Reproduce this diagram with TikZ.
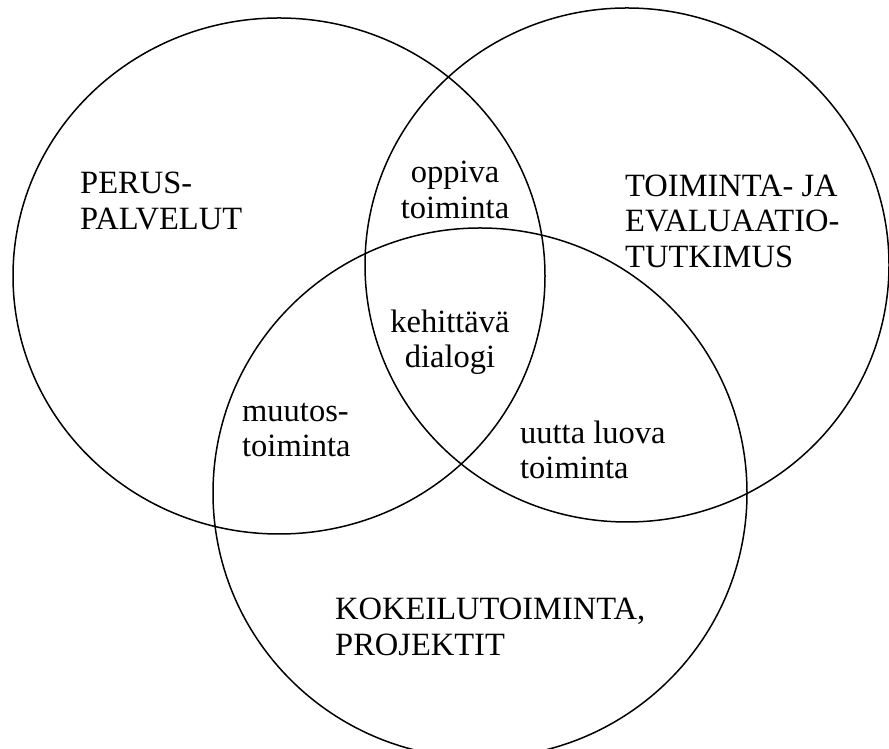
\documentclass[tikz,border=0pt]{standalone}
\usepackage{fontspec}
\setmainfont{Liberation Serif}
\usetikzlibrary{positioning}

\tikzset{
	ring/.style={draw, line width=1.5pt},
	label/.style={inner sep=0pt, font=\fontsize{32.5}{35.5}\selectfont},
	lefttext/.style={label, anchor=west, align=left},
	midtext/.style={label, align=center}
}

\begin{document}
\begin{tikzpicture}[x=1pt, y=1pt]

		% === page bounds ===
		\useasboundingbox (0,0) rectangle (889,749);

		% === circles ===
		\draw[ring] (279,473) ellipse [x radius=266, y radius=258];	% basic services
		\draw[ring] (627,484) ellipse [x radius=262, y radius=257];	% research
		\draw[ring] (480,256) ellipse [x radius=267, y radius=265];	% projects

		% === labels of the circles ===
		\node[lefttext] (perus) at (80,548) {PERUS-\\PALVELUT};
		\node[lefttext] (tutkimus) at (625,528) {TOIMINTA- JA\\EVALUAATIO-\\TUTKIMUS};
		\node[lefttext] (kokeilu) at (335,122) {KOKEILUTOIMINTA,\\PROJEKTIT};

		% === labels of the overlaps ===
		\node[midtext] (oppiva) at (455,559) {oppiva\\toiminta};
		\node[midtext] (dialogi) at (450,407) {kehittävä\\dialogi};
		\node[lefttext] (muutos) at (242,319) {muutos-\\toiminta};
		\node[lefttext] (luova) at (520,299) {uutta luova\\toiminta};
	\end{tikzpicture}
\end{document}
